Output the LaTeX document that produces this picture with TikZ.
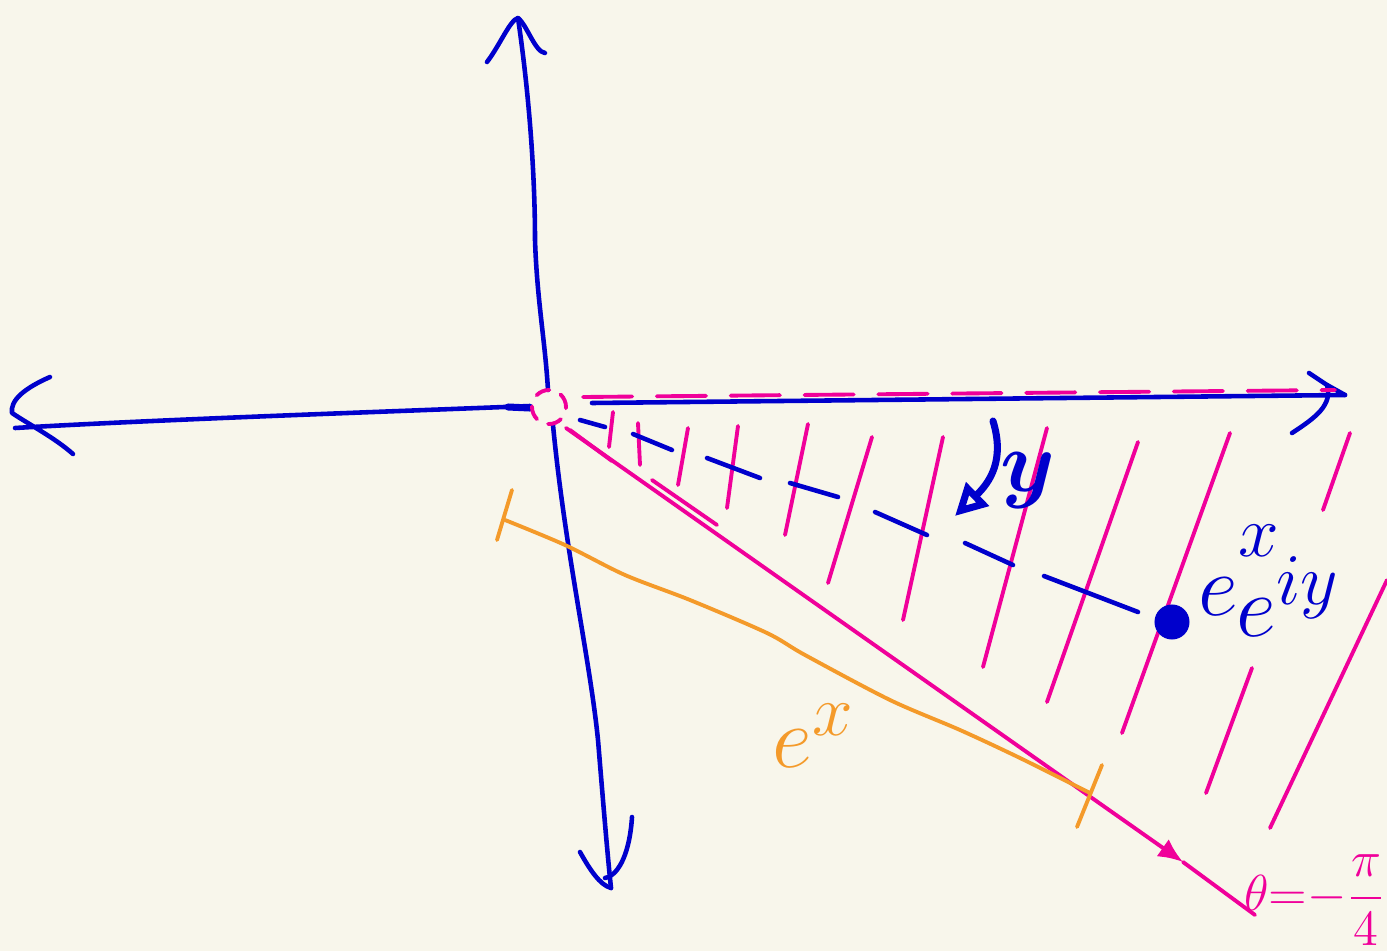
\documentclass[tikz,border=0pt]{standalone}
\usepackage{amsmath,amssymb}
\usepackage{graphicx}
\usepackage{tikz}
\usetikzlibrary{arrows.meta,calc}
\definecolor{inkblue}{HTML}{0000CC}
\definecolor{inkpink}{HTML}{F0009A}
\definecolor{inkorange}{HTML}{F49A2A}
\definecolor{paper}{HTML}{F8F6EB}

\begin{document}
\begin{tikzpicture}[x=0.01cm,y=-0.01cm,line cap=round,line join=round,
    ink/.style={inkblue,line width=1.3pt},
    hatch/.style={inkpink,line width=1.1pt},
    measure/.style={inkorange,line width=1.1pt}]
  \fill[paper] (0,0) rectangle (1387,951);
  \useasboundingbox (0,0) rectangle (1387,951);

  \coordinate (O) at (549,407);
  \coordinate (xneg) at (12,413);
  \coordinate (xpos) at (1345,395);
  \coordinate (ypos) at (518,18);
  \coordinate (yneg) at (611,888);

  % axes
  \draw[ink] (xneg) ++(3,15) .. controls (150,420) and (350,413) .. (530,406);
  \draw[ink,line width=2pt] (508,407) -- (530,408);
  \draw[ink] (592,403) -- (xpos);
  \draw[ink] (ypos) .. controls (530,100) and (535,180) .. (535,240)
             .. controls (537,300) and (545,340) .. (548,390);
  \draw[ink] (553,425) .. controls (565,550) and (590,660) .. (598,740)
             .. controls (603,800) and (607,850) .. (yneg);
  % hand drawn arrow heads
  \draw[ink] (50,377) .. controls (25,388) and (10,400) .. (xneg)
             .. controls (30,425) and (55,438) .. (73,454);
  \draw[ink] (487,62) .. controls (500,45) and (510,20) .. (ypos)
             .. controls (527,25) and (535,52) .. (545,53);
  \draw[ink] (1309,373) .. controls (1318,378) .. (1327,385) -- (xpos);
  \draw[ink] (1327,385) .. controls (1333,405) and (1315,418) .. (1292,433);
  \draw[ink] (580,852) .. controls (590,870) and (600,885) .. (yneg);
  \draw[ink] (632,817) .. controls (630,850) and (620,875) .. (605,878);

  % region between theta=0 and theta=-pi/4
  \draw[hatch,dash pattern=on 4pt off 3.5pt] (O) circle (0.17cm);
  \draw[hatch,dash pattern=on 14pt off 7pt] (583,397) -- (1335,390);
  \coordinate (rmid) at (1183,862);
  \coordinate (rend) at (1255,915);
  \draw[hatch,-{Latex[length=7pt,width=6pt]}] (566,428) -- (rmid);
  \draw[hatch] (rmid) -- (rend);
  \draw[hatch] (570,430) -- (612,461);
  \draw[hatch] (652,480) -- (717,525);
  \foreach \xa/\ya/\xb/\yb in {613/412/609/447, 638/423/640/465,
      688/428/678/485, 738/426/727/508, 808/424/785/535, 872/437/828/583,
      943/437/903/620, 1047/428/983/667, 1138/442/1047/702,
      1230/433/1122/733, 1350/433/1323/510, 1252/668/1206/793,
      1387/580/1270/828}
    \draw[hatch] (\xa,\ya) -- (\xb,\yb);

  % the point and its angle
  \foreach \xa/\ya/\xb/\yb in {580/420/605/427, 633/434/672/450,
      707/458/760/478, 790/483/838/497, 875/512/927/535, 965/543/1013/565,
      1044/576/1138/612}
    \draw[ink] (\xa,\ya) -- (\xb,\yb);
  \node[circle,fill=inkblue,inner sep=0pt,minimum size=0.35cm] (pt) at (1172,622) {};
  \node[inkblue,anchor=base west,inner sep=0pt,font=\fontsize{30}{30}\selectfont] (plab) at (1198,615)
    {$e^{\raisebox{0.25em}{$\scriptstyle x$}}\hspace{-0.42em}\raisebox{-0.2em}{$e^{iy}$}$};
  \draw[ink,line width=2pt,-{Triangle[open,length=9pt,width=9pt]}]
    (993,421) .. controls (1005,460) and (990,482) .. (955,516);
  \node[inkblue,font=\fontsize{32}{32}\selectfont] (ylab) at (1028,481) {$\boldsymbol{y}$};

  % modulus
  \draw[measure] plot[smooth] coordinates {(505,520) (565,545) (625,575) (690,600)
      (767,633) (805,655) (890,700) (960,730) (1020,758) (1090,793)};
  \draw[measure] (512,490) -- (497,540);
  \draw[measure] (1102,765) -- (1077,827);
  \node[inkorange,anchor=base west,font=\fontsize{30}{30}\selectfont] (rlab) at (760,767) {$e^{x}$};

  \node[inkpink,anchor=east,inner sep=0pt,font=\fontsize{14}{14}\selectfont] (th) at (1386,900)
    {$\theta{=}{-}\dfrac{\pi}{4}$};
\end{tikzpicture}
\end{document}
